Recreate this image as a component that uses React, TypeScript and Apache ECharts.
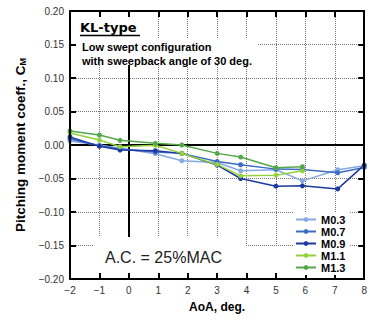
import React, { useEffect, useRef } from "react";
import * as echarts from "echarts";

const AOA = [-2, -1, -0.3, 0.9, 1.8, 3, 3.8, 5, 5.9, 7.1, 8];
const SERIES_NAMES = ["M0.3", "M0.7", "M0.9", "M1.1", "M1.3"];
const M03 = [0.006, 0.0, -0.005, -0.013, -0.0235, -0.026, -0.0385, -0.037, -0.0535, -0.037, -0.031];
const M07 = [0.009, -0.001, -0.006, -0.0105, -0.0125, -0.0245, -0.0295, -0.036, -0.0365, -0.0415, -0.0335];
const M09 = [0.012, -0.002, -0.0075, -0.0085, -0.0125, -0.03, -0.05, -0.0615, -0.061, -0.0655, -0.03];
const M11 = [0.018, 0.0075, -0.0025, -0.0005, -0.0125, -0.029, -0.046, -0.045, -0.0385];
const M13 = [0.021, 0.015, 0.007, 0.0025, 0.0, -0.0125, -0.018, -0.034, -0.0325];
const COLORS = ["#86aae2", "#3b6cc6", "#1d3a9e", "#95d23d", "#55a84a"];
const X_TICKS = { min: -2, max: 8, interval: 1 };
const Y_TICKS = { min: -0.2, max: 0.2, interval: 0.05 };

const minus = (s: string) => s.replace("-", "\u2212");

export default function App() {
  const ref = useRef<HTMLDivElement>(null);
  useEffect(() => {
    if (!ref.current) return;
    const chart = echarts.init(ref.current, undefined, { renderer: "svg" });
    const values = [M03, M07, M09, M11, M13];
    const frameLine = { show: true, onZero: false, lineStyle: { color: "#000", width: 2 } };
    const tick = { show: true, inside: true, length: 6, lineStyle: { color: "#000", width: 2 } };
    const split = { show: true, lineStyle: { type: "dotted", color: "#777", width: 1 } };
    const series: any[] = values.map((v, i) => ({
      name: SERIES_NAMES[i],
      type: "line",
      xAxisIndex: 0,
      yAxisIndex: 0,
      data: v.map((y, j) => [AOA[j], y]),
      symbol: "circle",
      symbolSize: 5,
      color: COLORS[i],
      lineStyle: { width: 1.5, color: COLORS[i] },
      itemStyle: { color: COLORS[i] },
      z: 4,
      emphasis: { disabled: true },
    }));
    series.push({
      name: "zero",
      type: "line",
      xAxisIndex: 0,
      yAxisIndex: 0,
      data: [],
      z: 1,
      silent: true,
      markLine: {
        z: 1,
        silent: true,
        symbol: ["none", "none"],
        label: { show: false },
        lineStyle: { color: "#000", width: 2, type: "solid" },
        emphasis: { disabled: true },
        data: [{ xAxis: 0 }, { yAxis: 0 }],
      },
    });
    chart.setOption({
      animation: false,
      grid: { left: 70, right: 3, top: 11, bottom: 45 },
      xAxis: [
        {
          type: "value", ...X_TICKS, position: "bottom", z: 10,
          axisLine: frameLine, axisTick: tick, splitLine: { show: false },
          axisLabel: { fontSize: 10, color: "#333", margin: 6, fontFamily: "Liberation Sans", formatter: (v: number) => minus(String(v)) },
          name: "AoA, deg.", nameLocation: "middle", nameGap: 22,
          nameTextStyle: { fontSize: 12, fontWeight: "bold", color: "#000", fontFamily: "Liberation Sans" },
        },
        {
          type: "value", ...X_TICKS, position: "top", z: 10,
          axisLine: frameLine, axisTick: tick, splitLine: { show: false }, axisLabel: { show: false },
        },
        {
          type: "value", ...X_TICKS, position: "bottom", z: 0,
          axisLine: { show: false }, axisTick: { show: false }, axisLabel: { show: false }, splitLine: split,
        },
      ],
      yAxis: [
        {
          type: "value", ...Y_TICKS, position: "left", z: 10,
          axisLine: frameLine, axisTick: tick, splitLine: { show: false },
          axisLabel: { fontSize: 10, color: "#333", margin: 6, fontFamily: "Liberation Sans", formatter: (v: number) => minus(v.toFixed(2)) },
          name: "Pitching moment coeff., C{s|M}", nameLocation: "middle", nameGap: 42,
          nameTextStyle: {
            fontSize: 13.5, fontWeight: "bold", color: "#000", fontFamily: "Liberation Sans",
            rich: { s: { fontSize: 9, fontWeight: "bold", color: "#000", fontFamily: "Liberation Sans", verticalAlign: "bottom" } },
          },
        },
        {
          type: "value", ...Y_TICKS, position: "right", z: 10,
          axisLine: frameLine, axisTick: tick, splitLine: { show: false }, axisLabel: { show: false },
        },
        {
          type: "value", ...Y_TICKS, position: "left", z: 0,
          axisLine: { show: false }, axisTick: { show: false }, axisLabel: { show: false }, splitLine: split,
        },
      ],
      legend: {
        data: SERIES_NAMES,
        orient: "vertical",
        left: 293,
        top: 212,
        itemWidth: 20,
        itemHeight: 6,
        itemGap: 1,
        padding: [2, 4, 2, 2],
        backgroundColor: "#fff",
        z: 12,
        selectedMode: false,
        textStyle: { fontSize: 11, fontWeight: "bold", color: "#000", fontFamily: "Liberation Sans", lineHeight: 11 },
      },
      graphic: [
        { type: "rect", z: 3, silent: true, shape: { x: 72, y: 13, width: 72, height: 26 }, style: { fill: "#fff" } },
        { type: "rect", z: 3, silent: true, shape: { x: 72, y: 38, width: 186, height: 27 }, style: { fill: "#fff" } },
        { type: "rect", z: 3, silent: true, shape: { x: 93, y: 237, width: 152, height: 41 }, style: { fill: "#fff" } },
        { type: "rect", z: 3, silent: true, shape: { x: 244, y: 246, width: 50, height: 32 }, style: { fill: "#fff" } },
        { type: "text", z: 11, silent: true, x: 80, y: 27, style: { text: "KL-type", font: "bold 13px 'DejaVu Sans'", fill: "#000", verticalAlign: "middle" } },
        { type: "line", z: 11, silent: true, shape: { x1: 80, y1: 35.5, x2: 140, y2: 35.5 }, style: { stroke: "#000", lineWidth: 1.5 } },
        { type: "text", z: 11, silent: true, x: 82, y: 47, style: { text: "Low swept configuration", font: "bold 11px 'Liberation Sans'", fill: "#000", verticalAlign: "middle" } },
        { type: "text", z: 11, silent: true, x: 82, y: 61, style: { text: "with sweepback angle of 30 deg.", font: "bold 11px 'Liberation Sans'", fill: "#000", verticalAlign: "middle" } },
        { type: "text", z: 11, silent: true, x: 105, y: 257, style: { text: "A.C. = 25%MAC", font: "16px 'Liberation Sans'", fill: "#222", verticalAlign: "middle" } },
      ],
      series,
    });
    return () => chart.dispose();
  }, []);
  return <div ref={ref} style={{ position: "fixed", left: 0, top: 0, width: 370, height: 324, background: "#fff" }} />;
}
